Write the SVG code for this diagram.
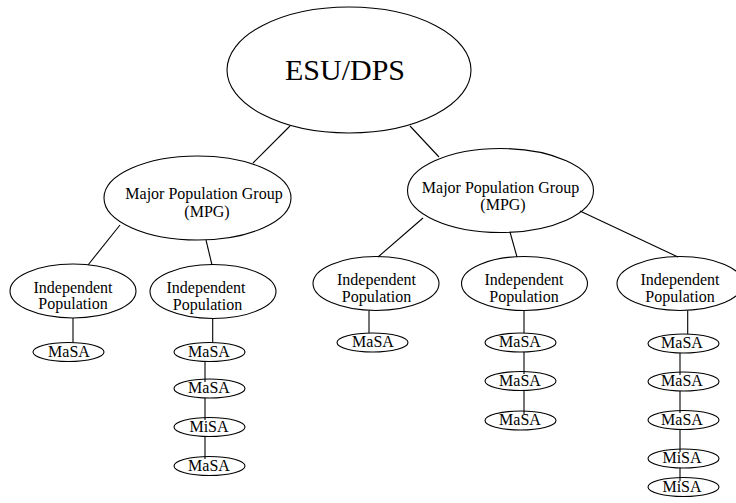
<svg xmlns="http://www.w3.org/2000/svg" width="736" height="503" viewBox="0 0 736 503">
<style>
.n{fill:#fff;stroke:#000;stroke-width:1.1}
.t{font-family:"Liberation Serif","Times New Roman",serif;font-size:16px;fill:#000;text-anchor:middle}
.big{font-size:30px}
.c line{stroke:#000;stroke-width:1.1}
</style>
<rect width="736" height="503" fill="#fff"/>
<g id="esu"><ellipse class="n" cx="349" cy="70" rx="122" ry="63"/><text class="t big" x="345" y="80">ESU/DPS</text></g>
<g id="mpg1"><ellipse class="n" cx="197.5" cy="198" rx="93.5" ry="42"/><text class="t" x="204" y="199">Major Population Group</text><text class="t" x="207" y="217">(MPG)</text></g>
<g id="mpg2"><ellipse class="n" cx="500.5" cy="190.5" rx="93" ry="42"/><text class="t" x="500.5" y="193">Major Population Group</text><text class="t" x="503" y="210">(MPG)</text></g>
<g id="ip1"><ellipse class="n" cx="73" cy="291" rx="63" ry="27"/><text class="t" x="73" y="292.5">Independent</text><text class="t" x="73" y="309">Population</text></g>
<g id="ip2"><ellipse class="n" cx="213" cy="291.5" rx="63" ry="27"/><text class="t" x="206" y="293">Independent</text><text class="t" x="207.5" y="309.5">Population</text></g>
<g id="ip3"><ellipse class="n" cx="376" cy="283.5" rx="63" ry="27"/><text class="t" x="376.5" y="285">Independent</text><text class="t" x="376.5" y="301.5">Population</text></g>
<g id="ip4"><ellipse class="n" cx="524.5" cy="283.5" rx="63" ry="27"/><text class="t" x="524" y="285">Independent</text><text class="t" x="524" y="301.5">Population</text></g>
<g id="ip5"><ellipse class="n" cx="680" cy="283.5" rx="63" ry="27"/><text class="t" x="680" y="285">Independent</text><text class="t" x="680" y="301.5">Population</text></g>
<g id="s1a"><ellipse class="n" cx="68.5" cy="352" rx="35.5" ry="9.5"/><text class="t" x="69" y="356.5">MaSA</text></g>
<g id="s2a"><ellipse class="n" cx="209.5" cy="352" rx="35.5" ry="9.5"/><text class="t" x="209" y="356.5">MaSA</text></g>
<g id="s2b"><ellipse class="n" cx="209.5" cy="388.5" rx="35.5" ry="9.5"/><text class="t" x="209" y="393">MaSA</text></g>
<g id="s2c"><ellipse class="n" cx="209.5" cy="427" rx="35.5" ry="9.5"/><text class="t" x="209" y="431.5">MiSA</text></g>
<g id="s2d"><ellipse class="n" cx="209.5" cy="466" rx="35.5" ry="9.5"/><text class="t" x="209" y="470.5">MaSA</text></g>
<g id="s3a"><ellipse class="n" cx="372.5" cy="342.5" rx="35.5" ry="9.5"/><text class="t" x="373" y="347">MaSA</text></g>
<g id="s4a"><ellipse class="n" cx="520.5" cy="342.5" rx="35.5" ry="9.5"/><text class="t" x="520" y="347">MaSA</text></g>
<g id="s4b"><ellipse class="n" cx="520.5" cy="381" rx="35.5" ry="9.5"/><text class="t" x="520" y="385.5">MaSA</text></g>
<g id="s4c"><ellipse class="n" cx="520.5" cy="420.5" rx="35.5" ry="9.5"/><text class="t" x="520" y="425">MaSA</text></g>
<g id="s5a"><ellipse class="n" cx="683.5" cy="343.5" rx="35.5" ry="9.5"/><text class="t" x="682" y="348">MaSA</text></g>
<g id="s5b"><ellipse class="n" cx="683.5" cy="381.5" rx="35.5" ry="9.5"/><text class="t" x="682" y="386">MaSA</text></g>
<g id="s5c"><ellipse class="n" cx="683.5" cy="420" rx="35.5" ry="9.5"/><text class="t" x="682" y="424.5">MaSA</text></g>
<g id="s5d"><ellipse class="n" cx="683.5" cy="458.5" rx="35.5" ry="9.5"/><text class="t" x="682" y="463">MiSA</text></g>
<g id="s5e"><ellipse class="n" cx="683.5" cy="487" rx="35.5" ry="9.5"/><text class="t" x="682" y="491.5">MiSA</text></g>
<g id="connectors" class="c">
<line x1="290" y1="126" x2="253" y2="163"/>
<line x1="410" y1="126" x2="439" y2="157"/>
<line x1="120" y1="225" x2="88" y2="265"/>
<line x1="206" y1="240" x2="212" y2="265"/>
<line x1="423" y1="218" x2="378" y2="257"/>
<line x1="510" y1="232" x2="517" y2="257"/>
<line x1="580" y1="211" x2="678" y2="257"/>
<line x1="73" y1="318" x2="73" y2="342.5"/>
<line x1="212.7" y1="318.5" x2="212.7" y2="342.5"/>
<line x1="205" y1="361.5" x2="205" y2="382"/>
<line x1="205" y1="398" x2="205" y2="420"/>
<line x1="205" y1="436.5" x2="205" y2="459"/>
<line x1="369" y1="310.5" x2="369" y2="333"/>
<line x1="524" y1="310.5" x2="524" y2="333"/>
<line x1="524" y1="352" x2="524" y2="374"/>
<line x1="524" y1="390.5" x2="524" y2="414"/>
<line x1="687.7" y1="310.5" x2="687.7" y2="334"/>
<line x1="680" y1="353" x2="680" y2="375"/>
<line x1="680" y1="391" x2="680" y2="413"/>
<line x1="680" y1="429.5" x2="680" y2="452"/>
<line x1="680" y1="468" x2="680" y2="481"/>
</g>
</svg>
